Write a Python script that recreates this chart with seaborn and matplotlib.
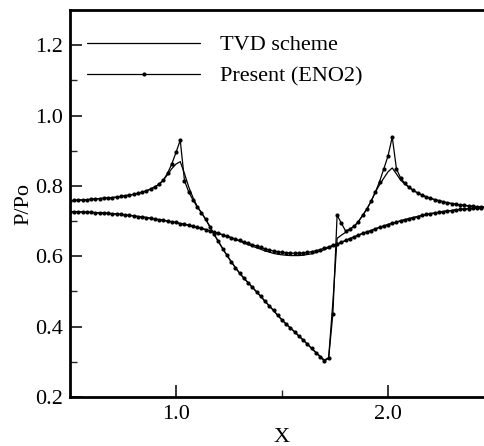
import numpy as np
import pandas as pd
import matplotlib
matplotlib.use("Agg")
import matplotlib.pyplot as plt
import seaborn as sns

# x stations (shared mesh)
x_vals = [0.50, 0.52, 0.54, 0.56, 0.58, 0.60, 0.62, 0.64, 0.66, 0.68,
          0.70, 0.72, 0.74, 0.76, 0.78, 0.80, 0.82, 0.84, 0.86, 0.88,
          0.90, 0.92, 0.94, 0.96, 0.98, 1.00, 1.02, 1.04, 1.06, 1.08,
          1.10, 1.12, 1.14, 1.16, 1.18, 1.20, 1.22, 1.24, 1.26, 1.28,
          1.30, 1.32, 1.34, 1.36, 1.38, 1.40, 1.42, 1.44, 1.46, 1.48,
          1.50, 1.52, 1.54, 1.56, 1.58, 1.60, 1.62, 1.64, 1.66, 1.68,
          1.70, 1.72, 1.74, 1.76, 1.78, 1.80, 1.82, 1.84, 1.86, 1.88,
          1.90, 1.92, 1.94, 1.96, 1.98, 2.00, 2.02, 2.04, 2.06, 2.08,
          2.10, 2.12, 2.14, 2.16, 2.18, 2.20, 2.22, 2.24, 2.26, 2.28,
          2.30, 2.32, 2.34, 2.36, 2.38, 2.40, 2.42, 2.44, 2.46, 2.48,
          2.50]

# Present (ENO2) - upper curve
eno_upper = [0.758, 0.759, 0.760, 0.760, 0.761, 0.762, 0.763, 0.764, 0.765, 0.766,
             0.767, 0.768, 0.770, 0.772, 0.774, 0.776, 0.779, 0.782, 0.786, 0.791,
             0.797, 0.805, 0.816, 0.836, 0.862, 0.895, 0.930, 0.815, 0.783, 0.760,
             0.740, 0.724, 0.705, 0.684, 0.662, 0.642, 0.622, 0.603, 0.585, 0.568,
             0.552, 0.538, 0.525, 0.512, 0.499, 0.486, 0.472, 0.459, 0.446, 0.432,
             0.419, 0.407, 0.396, 0.385, 0.373, 0.362, 0.350, 0.338, 0.326, 0.314,
             0.302, 0.310, 0.437, 0.717, 0.694, 0.672, 0.677, 0.685, 0.698, 0.716,
             0.734, 0.756, 0.782, 0.812, 0.848, 0.885, 0.939, 0.848, 0.822, 0.807,
             0.796, 0.787, 0.780, 0.774, 0.769, 0.765, 0.761, 0.758, 0.755, 0.752,
             0.750, 0.748, 0.746, 0.745, 0.743, 0.742, 0.741, 0.740, 0.740, 0.739,
             0.739]

# TVD scheme - upper curve
tvd_upper = [0.758, 0.759, 0.760, 0.760, 0.761, 0.762, 0.763, 0.764, 0.765, 0.766,
             0.767, 0.768, 0.770, 0.772, 0.774, 0.776, 0.779, 0.782, 0.786, 0.791,
             0.797, 0.805, 0.816, 0.832, 0.849, 0.862, 0.869, 0.835, 0.797, 0.767,
             0.742, 0.724, 0.705, 0.684, 0.662, 0.642, 0.622, 0.603, 0.585, 0.568,
             0.552, 0.538, 0.525, 0.512, 0.499, 0.486, 0.472, 0.459, 0.446, 0.432,
             0.419, 0.407, 0.396, 0.385, 0.373, 0.362, 0.350, 0.338, 0.327, 0.316,
             0.305, 0.312, 0.470, 0.651, 0.660, 0.668, 0.677, 0.685, 0.698, 0.716,
             0.734, 0.756, 0.782, 0.803, 0.822, 0.840, 0.851, 0.834, 0.816, 0.805,
             0.796, 0.787, 0.780, 0.774, 0.769, 0.765, 0.761, 0.758, 0.755, 0.752,
             0.750, 0.748, 0.746, 0.745, 0.743, 0.742, 0.741, 0.740, 0.740, 0.739,
             0.739]

# Present (ENO2) - lower curve
eno_lower = [0.727, 0.727, 0.726, 0.726, 0.725, 0.725, 0.724, 0.723, 0.723, 0.722,
             0.721, 0.720, 0.719, 0.718, 0.716, 0.715, 0.713, 0.712, 0.710, 0.708,
             0.706, 0.704, 0.702, 0.700, 0.698, 0.696, 0.693, 0.691, 0.688, 0.685,
             0.682, 0.679, 0.676, 0.672, 0.669, 0.665, 0.661, 0.657, 0.653, 0.649,
             0.645, 0.641, 0.637, 0.633, 0.629, 0.625, 0.621, 0.618, 0.615, 0.613,
             0.611, 0.610, 0.609, 0.609, 0.609, 0.610, 0.611, 0.613, 0.616, 0.619,
             0.623, 0.627, 0.631, 0.635, 0.640, 0.645, 0.650, 0.655, 0.660, 0.665,
             0.669, 0.673, 0.678, 0.682, 0.686, 0.690, 0.694, 0.697, 0.701, 0.704,
             0.707, 0.710, 0.713, 0.716, 0.719, 0.721, 0.723, 0.725, 0.727, 0.729,
             0.730, 0.732, 0.733, 0.734, 0.735, 0.736, 0.737, 0.738, 0.739, 0.739,
             0.740]

# TVD scheme - lower curve
tvd_lower = [0.727, 0.727, 0.726, 0.726, 0.725, 0.725, 0.724, 0.723, 0.723, 0.722,
             0.721, 0.720, 0.719, 0.718, 0.716, 0.715, 0.713, 0.712, 0.710, 0.708,
             0.706, 0.704, 0.702, 0.700, 0.698, 0.696, 0.693, 0.691, 0.688, 0.685,
             0.682, 0.679, 0.676, 0.672, 0.669, 0.665, 0.661, 0.657, 0.653, 0.648,
             0.643, 0.638, 0.633, 0.629, 0.624, 0.620, 0.615, 0.612, 0.608, 0.606,
             0.604, 0.603, 0.602, 0.602, 0.602, 0.603, 0.605, 0.607, 0.611, 0.615,
             0.619, 0.624, 0.629, 0.634, 0.639, 0.645, 0.650, 0.655, 0.660, 0.665,
             0.669, 0.673, 0.678, 0.682, 0.686, 0.690, 0.694, 0.697, 0.701, 0.704,
             0.707, 0.710, 0.713, 0.716, 0.719, 0.721, 0.723, 0.725, 0.727, 0.729,
             0.730, 0.732, 0.733, 0.734, 0.735, 0.736, 0.737, 0.738, 0.739, 0.739,
             0.740]

x_ticks = [1.0, 2.0]
x_ticklabels = ["1.0", "2.0"]
y_ticks = [0.2, 0.4, 0.6, 0.8, 1.0, 1.2]
y_ticklabels = ["0.2", "0.4", "0.6", "0.8", "1.0", "1.2"]

sns.set_theme(style="ticks")
plt.rcParams["font.family"] = ["Liberation Serif", "DejaVu Serif"]
plt.rcParams["mathtext.fontset"] = "stix"

fig = plt.figure(figsize=(4.85, 4.46), dpi=100)
ax = fig.add_axes([70 / 485, 49 / 446, 424 / 485, 387 / 446])

df = pd.DataFrame({"x": x_vals, "eno_u": eno_upper, "tvd_u": tvd_upper,
                   "eno_l": eno_lower, "tvd_l": tvd_lower})

lw = 0.9
ms = 3.0
sns.lineplot(data=df, x="x", y="tvd_l", ax=ax, color="black", lw=lw,
             estimator=None, sort=False)
sns.lineplot(data=df, x="x", y="eno_l", ax=ax, color="black", lw=lw,
             marker="o", markersize=ms, markeredgewidth=0,
             estimator=None, sort=False)
sns.lineplot(data=df, x="x", y="tvd_u", ax=ax, color="black", lw=lw,
             estimator=None, sort=False, label="TVD scheme")
sns.lineplot(data=df, x="x", y="eno_u", ax=ax, color="black", lw=lw,
             marker="o", markersize=ms, markeredgewidth=0,
             estimator=None, sort=False, label="Present (ENO2)")

ax.set_xlim(0.5, 2.5)
ax.set_ylim(0.2, 1.3)
ax.set_xticks(x_ticks)
ax.set_xticklabels(x_ticklabels)
ax.set_yticks(y_ticks)
ax.set_yticklabels(y_ticklabels)
ax.set_xticks([1.5], minor=True)
ax.set_yticks([0.3, 0.5, 0.7, 0.9, 1.1], minor=True)

ax.tick_params(axis="both", which="major", direction="in", length=8.5,
               width=1.1, labelsize=16, colors="black", top=False, right=False)
ax.tick_params(axis="both", which="minor", direction="in", length=5.2,
               width=1.0, top=False, right=False)
ax.tick_params(axis="x", which="major", pad=6)
ax.tick_params(axis="y", which="major", pad=5)

for side in ["left", "bottom", "top"]:
    ax.spines[side].set_linewidth(2.0)
    ax.spines[side].set_color("black")
ax.spines["right"].set_visible(False)

ax.set_xlabel("X", fontsize=16, color="black", labelpad=3)
ax.set_ylabel("P/Po", fontsize=16, color="black")
ax.yaxis.set_label_coords(-0.087, 0.5)

leg = ax.legend(loc="upper left", bbox_to_anchor=(0.04, 0.936),
                frameon=False, fontsize=16, handlelength=5.1,
                handletextpad=0.9, labelspacing=0.47, borderpad=0,
                borderaxespad=0)
for t in leg.get_texts():
    t.set_color("black")

fig.savefig("out.png", dpi=100)
